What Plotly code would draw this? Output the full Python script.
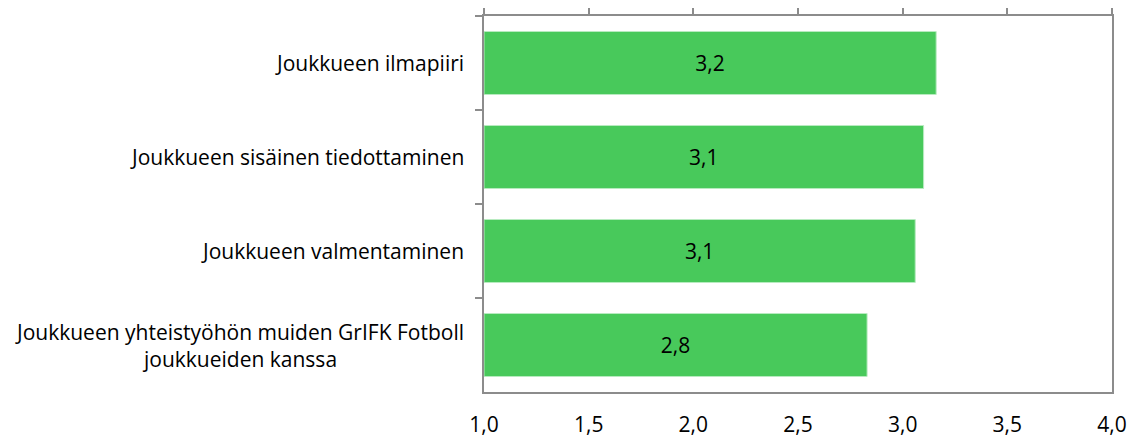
import plotly.graph_objects as go

categories = [
    "Joukkueen ilmapiiri",
    "Joukkueen sisäinen tiedottaminen",
    "Joukkueen valmentaminen",
    "Joukkueen yhteistyöhön muiden GrIFK Fotboll<br>joukkueiden kanssa",
]
values = [3.16, 3.10, 3.06, 2.83]
axis_min = 1.0
tick_vals = [1.0, 1.5, 2.0, 2.5, 3.0, 3.5, 4.0]
tick_text = ["1,0", "1,5", "2,0", "2,5", "3,0", "3,5", "4,0"]

FONT = "Open Sans, sans-serif"
LINE = "#8c8c8c"
FS = 21

fig = go.Figure()
fig.add_trace(go.Bar(
    y=categories,
    x=[v - axis_min for v in values],
    base=axis_min,
    orientation="h",
    width=0.67,
    marker=dict(color="#48c95b", line=dict(color="#b8ebc0", width=1)),
    text=[f"{v:.1f}".replace(".", ",") for v in values],
    textposition="inside",
    insidetextanchor="middle",
    textfont=dict(family=FONT, size=FS, color="#000000"),
    hoverinfo="skip",
))
# invisible trace on top axis
fig.add_trace(go.Scatter(x=[1, 4], y=[categories[0], categories[0]], xaxis="x2",
                         mode="markers", marker=dict(opacity=0), showlegend=False, hoverinfo="skip"))

for c in categories:
    fig.add_annotation(x=0, xref="paper", y=c, yref="y", text=c, showarrow=False,
                       xanchor="right", yanchor="middle", align="center", xshift=-18,
                       font=dict(family=FONT, size=FS, color="#000000"))

fig.update_layout(
    width=1143, height=439,
    margin=dict(l=476, r=39, t=8, b=55, autoexpand=False),
    paper_bgcolor="white", plot_bgcolor="white",
    showlegend=False, bargap=0.33,
    xaxis=dict(range=[1, 4], tickvals=tick_vals, ticktext=tick_text, showgrid=False,
               zeroline=False, showline=True, linecolor=LINE, linewidth=1.5, ticks="",
               tickfont=dict(family=FONT, size=FS, color="#000000"), ticklabelstandoff=13,
               automargin=False),
    xaxis2=dict(range=[1, 4], overlaying="x", side="top", tickvals=tick_vals, showticklabels=False,
                showgrid=False, zeroline=False, showline=True, linecolor=LINE, linewidth=1.5,
                ticks="outside", ticklen=7, tickcolor=LINE, tickwidth=1.5, automargin=False),
    yaxis=dict(categoryorder="array", categoryarray=categories, autorange="reversed",
               showticklabels=False, showgrid=False, zeroline=False, showline=True,
               linecolor=LINE, linewidth=1.5, mirror=True, ticks="outside", tickson="boundaries",
               ticklen=7, tickcolor=LINE, tickwidth=1.5, automargin=False),
)

fig.write_html("out.html")
